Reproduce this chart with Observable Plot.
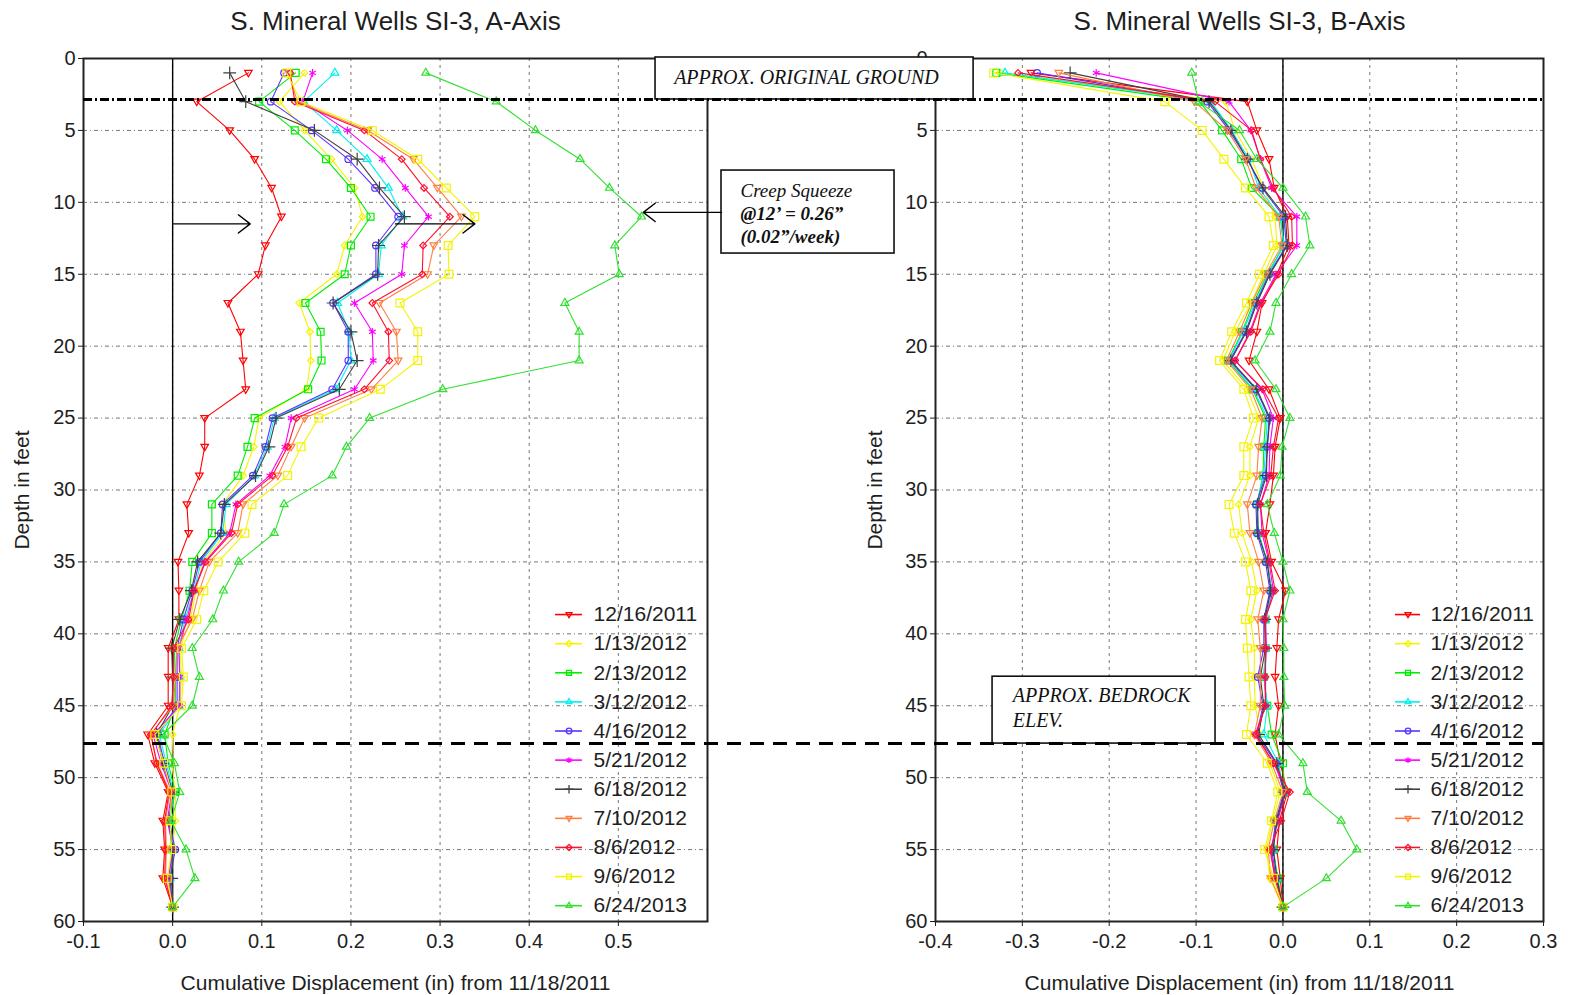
<!DOCTYPE html>
<html>
<head>
<meta charset="utf-8">
<script src="https://cdn.jsdelivr.net/npm/d3@7"></script>
<script src="https://cdn.jsdelivr.net/npm/@observablehq/plot@0.6"></script>
<style>
  body { margin: 0; background: #fff; }
  #fig { position: relative; width: 1569px; height: 995px; overflow: hidden; background: #fff; }
  #fig svg { position: absolute; left: 0; top: 0; }
</style>
</head>
<body>
<div id="fig"></div>
<script>
// ---------------- DATA ----------------
const depths = [1,3,5,7,9,11,13,15,17,19,21,23,25,27,29,31,33,35,37,39,41,43,45,47,49,51,53,55,57,59];
const dates = ["12/16/2011","1/13/2012","2/13/2012","3/12/2012","4/16/2012","5/21/2012","6/18/2012","7/10/2012","8/6/2012","9/6/2012","6/24/2013"];
const colors = ["#ff0000","#f4f400","#00ee00","#00f0f0","#5a32ff","#ff00ff","#404040","#ff7f40","#ff1030","#f4f400","#30e030"];

const xTicksA = [-0.1, 0.0, 0.1, 0.2, 0.3, 0.4, 0.5];
const xTicksB = [-0.4, -0.3, -0.2, -0.1, 0.0, 0.1, 0.2, 0.3];
const yTicks = [0,5,10,15,20,25,30,35,40,45,50,55,60];

const titleA = "S. Mineral Wells SI-3, A-Axis";
const titleB = "S. Mineral Wells SI-3, B-Axis";
const xLabel = "Cumulative Displacement (in) from 11/18/2011";
const yLabel = "Depth in feet";

// A-Axis cumulative displacement (in), one value per depth
const a_2011_12_16 = [0.085,0.027,0.064,0.092,0.111,0.122,0.104,0.096,0.062,0.076,0.079,0.082,0.036,0.036,0.030,0.016,0.018,0.006,0.007,0.007,-0.005,-0.005,-0.005,-0.028,-0.020,-0.005,-0.011,-0.009,-0.011,0.000];
const a_2012_01_13 = [0.148,0.120,0.148,0.178,0.204,0.213,0.193,0.184,0.142,0.154,0.155,0.150,0.097,0.091,0.079,0.056,0.060,0.034,0.026,0.020,0.008,0.010,0.008,0.000,-0.001,0.003,0.003,0.000,-0.002,0.000];
const a_2012_02_13 = [0.138,0.097,0.137,0.172,0.200,0.222,0.200,0.193,0.149,0.166,0.167,0.152,0.092,0.084,0.073,0.044,0.044,0.022,0.019,0.010,0.002,0.003,0.003,-0.009,-0.005,0.003,-0.004,-0.001,-0.004,0.000];
const a_2012_03_12 = [0.182,0.147,0.184,0.218,0.242,0.258,0.234,0.231,0.185,0.198,0.200,0.183,0.114,0.106,0.092,0.060,0.056,0.032,0.024,0.014,0.007,0.008,0.007,-0.015,-0.007,0.001,-0.003,0.001,-0.003,0.000];
const a_2012_04_16 = [0.125,0.110,0.156,0.197,0.227,0.253,0.228,0.228,0.180,0.197,0.197,0.179,0.112,0.104,0.090,0.056,0.054,0.030,0.022,0.012,0.005,0.005,0.005,-0.017,-0.009,0.000,-0.004,0.003,-0.003,0.000];
const a_2012_05_21 = [0.157,0.146,0.196,0.235,0.261,0.287,0.260,0.257,0.204,0.224,0.225,0.204,0.133,0.126,0.109,0.071,0.064,0.036,0.024,0.016,0.007,0.008,0.008,-0.022,-0.013,-0.001,-0.006,0.001,-0.005,0.000];
const a_2012_06_18 = [0.064,0.082,0.159,0.207,0.232,0.260,0.231,0.230,0.180,0.200,0.207,0.187,0.116,0.108,0.093,0.058,0.054,0.028,0.021,0.008,-0.001,0.000,0.000,-0.018,-0.011,0.000,-0.004,0.000,-0.001,0.000];
const a_2012_07_10 = [0.130,0.140,0.219,0.270,0.297,0.324,0.293,0.286,0.232,0.251,0.253,0.223,0.148,0.133,0.118,0.079,0.073,0.041,0.030,0.022,0.005,0.003,0.001,-0.025,-0.017,-0.003,-0.008,-0.007,-0.008,0.000];
const a_2012_08_06 = [0.132,0.137,0.215,0.257,0.282,0.311,0.281,0.280,0.224,0.242,0.243,0.215,0.139,0.129,0.112,0.073,0.066,0.037,0.024,0.018,0.001,0.001,-0.001,-0.024,-0.018,-0.004,-0.009,-0.008,-0.009,0.000];
const a_2012_09_06 = [0.128,0.144,0.224,0.275,0.307,0.339,0.309,0.310,0.255,0.275,0.275,0.233,0.164,0.144,0.129,0.089,0.081,0.051,0.035,0.027,0.010,0.012,0.010,-0.020,-0.010,-0.001,-0.003,-0.001,-0.006,0.000];
const a_2013_06_24 = [0.284,0.363,0.407,0.457,0.490,0.526,0.496,0.501,0.440,0.456,0.456,0.303,0.221,0.195,0.179,0.125,0.114,0.074,0.057,0.045,0.022,0.030,0.022,-0.011,0.002,0.008,-0.002,0.015,0.025,0.000];

// B-Axis cumulative displacement (in)
const b_2011_12_16 = [-0.290,-0.041,-0.030,-0.016,-0.010,0.005,0.007,-0.007,-0.024,-0.030,-0.039,-0.016,-0.003,-0.009,-0.011,-0.015,-0.020,-0.013,0.003,-0.005,-0.007,-0.009,-0.005,-0.009,-0.003,0.005,-0.004,-0.007,-0.003,0.000];
const b_2012_01_13 = [-0.325,-0.066,-0.055,-0.036,-0.022,-0.009,-0.007,-0.022,-0.037,-0.055,-0.069,-0.041,-0.028,-0.038,-0.038,-0.051,-0.047,-0.036,-0.030,-0.037,-0.033,-0.033,-0.032,-0.026,-0.015,-0.003,-0.012,-0.019,-0.015,0.000];
const b_2012_02_13 = [-0.330,-0.096,-0.070,-0.048,-0.036,-0.003,0.001,-0.018,-0.034,-0.047,-0.063,-0.035,-0.020,-0.022,-0.023,-0.030,-0.028,-0.018,-0.013,-0.020,-0.020,-0.022,-0.018,-0.013,0.000,0.002,-0.009,-0.011,-0.006,0.000];
const b_2012_03_12 = [-0.320,-0.083,-0.059,-0.039,-0.028,-0.003,0.001,-0.017,-0.032,-0.046,-0.062,-0.034,-0.018,-0.020,-0.022,-0.030,-0.028,-0.018,-0.013,-0.020,-0.020,-0.022,-0.018,-0.022,-0.005,0.001,-0.008,-0.011,-0.007,0.000];
const b_2012_04_16 = [-0.283,-0.087,-0.062,-0.041,-0.024,0.001,0.004,-0.016,-0.031,-0.043,-0.061,-0.031,-0.016,-0.018,-0.020,-0.031,-0.030,-0.020,-0.015,-0.022,-0.022,-0.029,-0.023,-0.030,-0.008,0.001,-0.008,-0.013,-0.008,0.000];
const b_2012_05_21 = [-0.215,-0.062,-0.037,-0.026,-0.013,0.016,0.016,-0.008,-0.026,-0.038,-0.055,-0.024,-0.011,-0.015,-0.016,-0.026,-0.024,-0.016,-0.011,-0.020,-0.019,-0.021,-0.020,-0.032,-0.010,0.003,-0.006,-0.014,-0.009,0.000];
const b_2012_06_18 = [-0.245,-0.085,-0.060,-0.041,-0.023,0.003,0.005,-0.015,-0.030,-0.042,-0.060,-0.030,-0.015,-0.018,-0.019,-0.029,-0.029,-0.018,-0.014,-0.021,-0.020,-0.026,-0.022,-0.028,-0.007,0.002,-0.007,-0.011,-0.007,0.000];
const b_2012_07_10 = [-0.258,-0.102,-0.064,-0.043,-0.031,-0.005,-0.001,-0.020,-0.036,-0.050,-0.065,-0.037,-0.024,-0.028,-0.030,-0.041,-0.038,-0.028,-0.022,-0.029,-0.026,-0.026,-0.026,-0.033,-0.013,0.000,-0.010,-0.017,-0.014,0.000];
const b_2012_08_06 = [-0.305,-0.078,-0.036,-0.026,-0.011,0.010,0.011,-0.005,-0.025,-0.037,-0.055,-0.023,-0.005,-0.011,-0.014,-0.026,-0.022,-0.015,-0.009,-0.021,-0.020,-0.020,-0.020,-0.031,-0.011,0.008,-0.002,-0.015,-0.009,0.000];
const b_2012_09_06 = [-0.333,-0.136,-0.093,-0.068,-0.043,-0.016,-0.011,-0.027,-0.042,-0.059,-0.073,-0.045,-0.034,-0.045,-0.045,-0.062,-0.056,-0.043,-0.037,-0.043,-0.041,-0.039,-0.037,-0.042,-0.018,-0.006,-0.013,-0.021,-0.011,0.000];
const b_2013_06_24 = [-0.105,-0.097,-0.050,-0.030,0.000,0.026,0.031,0.010,-0.008,-0.015,-0.032,-0.008,0.008,-0.001,-0.003,-0.018,-0.010,0.000,0.008,0.000,0.001,0.001,0.002,-0.005,0.023,0.028,0.067,0.085,0.050,0.000];

const seriesA = [a_2011_12_16,a_2012_01_13,a_2012_02_13,a_2012_03_12,a_2012_04_16,a_2012_05_21,a_2012_06_18,a_2012_07_10,a_2012_08_06,a_2012_09_06,a_2013_06_24];
const seriesB = [b_2011_12_16,b_2012_01_13,b_2012_02_13,b_2012_03_12,b_2012_04_16,b_2012_05_21,b_2012_06_18,b_2012_07_10,b_2012_08_06,b_2012_09_06,b_2013_06_24];

// Annotation values (data units)
const groundDepth = 2.85;
const bedrockDepth = 47.63;
const creepLines = [{t: "Creep Squeeze", y: 9.2}, {t: "@12\u2019 = 0.26\u201D", y: 10.8}, {t: "(0.02\u201D/week)", y: 12.4}];
const arrowsA = [
  {x1: 0.0, y1: 11.5, x2: 0.087, y2: 11.5},
  {x1: 0.25, y1: 11.5, x2: 0.339, y2: 11.5},
  {x1: 0.6157, y1: 10.7, x2: 0.528, y2: 10.7}
];

// ---------------- SYMBOLS ----------------
const triangleDown = {draw(ctx, size) { const r = Math.sqrt(size / Math.PI); ctx.moveTo(-r * 1.05, -r * 0.7); ctx.lineTo(r * 1.05, -r * 0.7); ctx.lineTo(0, r * 1.1); ctx.closePath(); }};
const symbols = [triangleDown, "diamond2", "square", "triangle2", "circle", "asterisk", "plus", triangleDown, "diamond2", "square", "triangle2"];
const radii = [3.6, 3.0, 3.9, 3.8, 3.3, 3.6, 4.2, 3.6, 3.0, 4.4, 3.8];

const W = 1569, H = 995;
const legendTop = 38.66, legendStep = 2.024;
const FONT = "'Liberation Sans', Arial, sans-serif";
const SERIF = "'Liberation Serif', 'Times New Roman', serif";

function rows(vals) { return depths.map((d, i) => ({depth: d, x: vals[i]})); }

function panel(cfg) {
  const marks = [];
  marks.push(Plot.ruleX(cfg.xTicks, {stroke: "#777", strokeWidth: 1, strokeDasharray: "3,4"}));
  marks.push(Plot.ruleY(yTicks.filter(d => d > 0 && d < 60), {stroke: "#777", strokeWidth: 1, strokeDasharray: "4,3,1,3"}));
  marks.push(Plot.ruleX([0], {stroke: "#000", strokeWidth: 1.4}));
  cfg.values.forEach((vals, i) => {
    const data = rows(vals);
    marks.push(Plot.line(data, {x: "x", y: "depth", stroke: colors[i], strokeWidth: 1.1}));
    marks.push(Plot.dot(data, {x: "x", y: "depth", symbol: symbols[i], r: radii[i], stroke: colors[i], fill: "none", strokeWidth: 1.2}));
  });
  const leg = dates.map((label, i) => ({label, y: legendTop + i * legendStep, x1: cfg.legendX[0], x2: cfg.legendX[1], xm: (cfg.legendX[0] + cfg.legendX[1]) / 2, xt: cfg.legendX[2]}));
  leg.forEach((row, i) => {
    marks.push(Plot.ruleY([row], {y: "y", x1: "x1", x2: "x2", stroke: colors[i], strokeWidth: 1.6}));
    marks.push(Plot.dot([row], {x: "xm", y: "y", symbol: symbols[i], r: 2.8, stroke: colors[i], fill: "none", strokeWidth: 1.3}));
  });
  marks.push(Plot.text(leg, {x: "xt", y: "y", text: "label", textAnchor: "start", fontSize: 21, fill: "#1e1e1e", fontFamily: FONT}));
  marks.push(Plot.frame({stroke: "#222", strokeWidth: 2}));
  marks.push(Plot.text([cfg.title], {text: d => d, frameAnchor: "top", lineAnchor: "middle", textAnchor: "middle", dy: -37, fontSize: 26, fill: "#1e1e1e", fontFamily: FONT}));
  marks.push(Plot.text([xLabel], {text: d => d, frameAnchor: "bottom", lineAnchor: "middle", textAnchor: "middle", dy: 62, fontSize: 21, fill: "#1e1e1e", fontFamily: FONT}));
  marks.push(Plot.text([yLabel], {text: d => d, frameAnchor: "left", lineAnchor: "middle", textAnchor: "middle", dx: cfg.yLabelDx, rotate: -90, fontSize: 21, fill: "#1e1e1e", fontFamily: FONT}));
  marks.push(...cfg.annotations);
  return Plot.plot({
    width: W, height: H,
    marginLeft: cfg.marginLeft, marginRight: cfg.marginRight, marginTop: 58, marginBottom: 74,
    x: {domain: cfg.xDomain, ticks: cfg.xTicks, tickFormat: d => d.toFixed(1), label: null, tickSize: 5, tickPadding: 7},
    y: {domain: [0, 60], reverse: true, ticks: yTicks, label: null, tickSize: 5, tickPadding: 3},
    style: "background:none;overflow:visible;font-family:" + FONT + ";font-size:20px;color:#1e1e1e;",
    marks
  });
}

// Right panel (B-Axis) — drawn underneath
const annB = [
  Plot.rect([{x1: -0.3343, x2: -0.0776, y1: 42.98, y2: bedrockDepth}], {x1: "x1", x2: "x2", y1: "y1", y2: "y2", fill: "#fff", stroke: "#111", strokeWidth: 1.6}),
  Plot.text([{t: "APPROX. BEDROCK", y: 44.3}, {t: "ELEV.", y: 46.0}], {x: -0.311, y: "y", text: "t", textAnchor: "start", fontSize: 20, fontStyle: "italic", fontFamily: SERIF, fill: "#111"})
];
const plotB = panel({xDomain: [-0.4, 0.3], xTicks: xTicksB, marginLeft: 935, marginRight: 26, values: seriesB, legendX: [0.1296, 0.1584, 0.1699], title: titleB, yLabelDx: -60, annotations: annB});

// Left panel (A-Axis) — on top, carries the cross-panel annotations
const crossRight = 1.5378; // right edge of the B frame, in A-axis units
const annA = [
  Plot.rect([{x1: 0.5417, x2: 0.8985, y1: -0.07, y2: groundDepth}], {x1: "x1", x2: "x2", y1: "y1", y2: "y2", fill: "#fff", stroke: "#111", strokeWidth: 1.6}),
  Plot.text(["APPROX. ORIGINAL GROUND"], {text: d => d, x: 0.711, y: 1.35, fontSize: 20, fontStyle: "italic", fontFamily: SERIF, fill: "#111"}),
  Plot.ruleY([groundDepth], {x1: -0.1, x2: crossRight, stroke: "#000", strokeWidth: 3, strokeDasharray: "9,3,2,3"}),
  Plot.ruleY([bedrockDepth], {x1: -0.1, x2: crossRight, stroke: "#000", strokeWidth: 3, strokeDasharray: "14,9"}),
  Plot.rect([{x1: 0.6157, x2: 0.8098, y1: 7.79, y2: 13.56}], {x1: "x1", x2: "x2", y1: "y1", y2: "y2", fill: "#fff", stroke: "#111", strokeWidth: 1.6}),
  Plot.text(creepLines.slice(0, 1), {x: 0.637, y: "y", text: "t", textAnchor: "start", fontSize: 19, fontStyle: "italic", fontFamily: SERIF, fill: "#111"}),
  Plot.text(creepLines.slice(1), {x: 0.637, y: "y", text: "t", textAnchor: "start", fontSize: 19, fontStyle: "italic", fontWeight: "bold", fontFamily: SERIF, fill: "#111"}),
  Plot.arrow(arrowsA, {x1: "x1", y1: "y1", x2: "x2", y2: "y2", stroke: "#000", strokeWidth: 1.4, headLength: 16, headAngle: 75})
];
const plotA = panel({xDomain: [-0.1, 0.6], xTicks: xTicksA, marginLeft: 83, marginRight: W - 707, values: seriesA, legendX: [0.4296, 0.4597, 0.4722], title: titleA, yLabelDx: -61, annotations: annA});

const fig = document.getElementById("fig");
fig.appendChild(plotB);
fig.appendChild(plotA);
</script>
</body>
</html>
